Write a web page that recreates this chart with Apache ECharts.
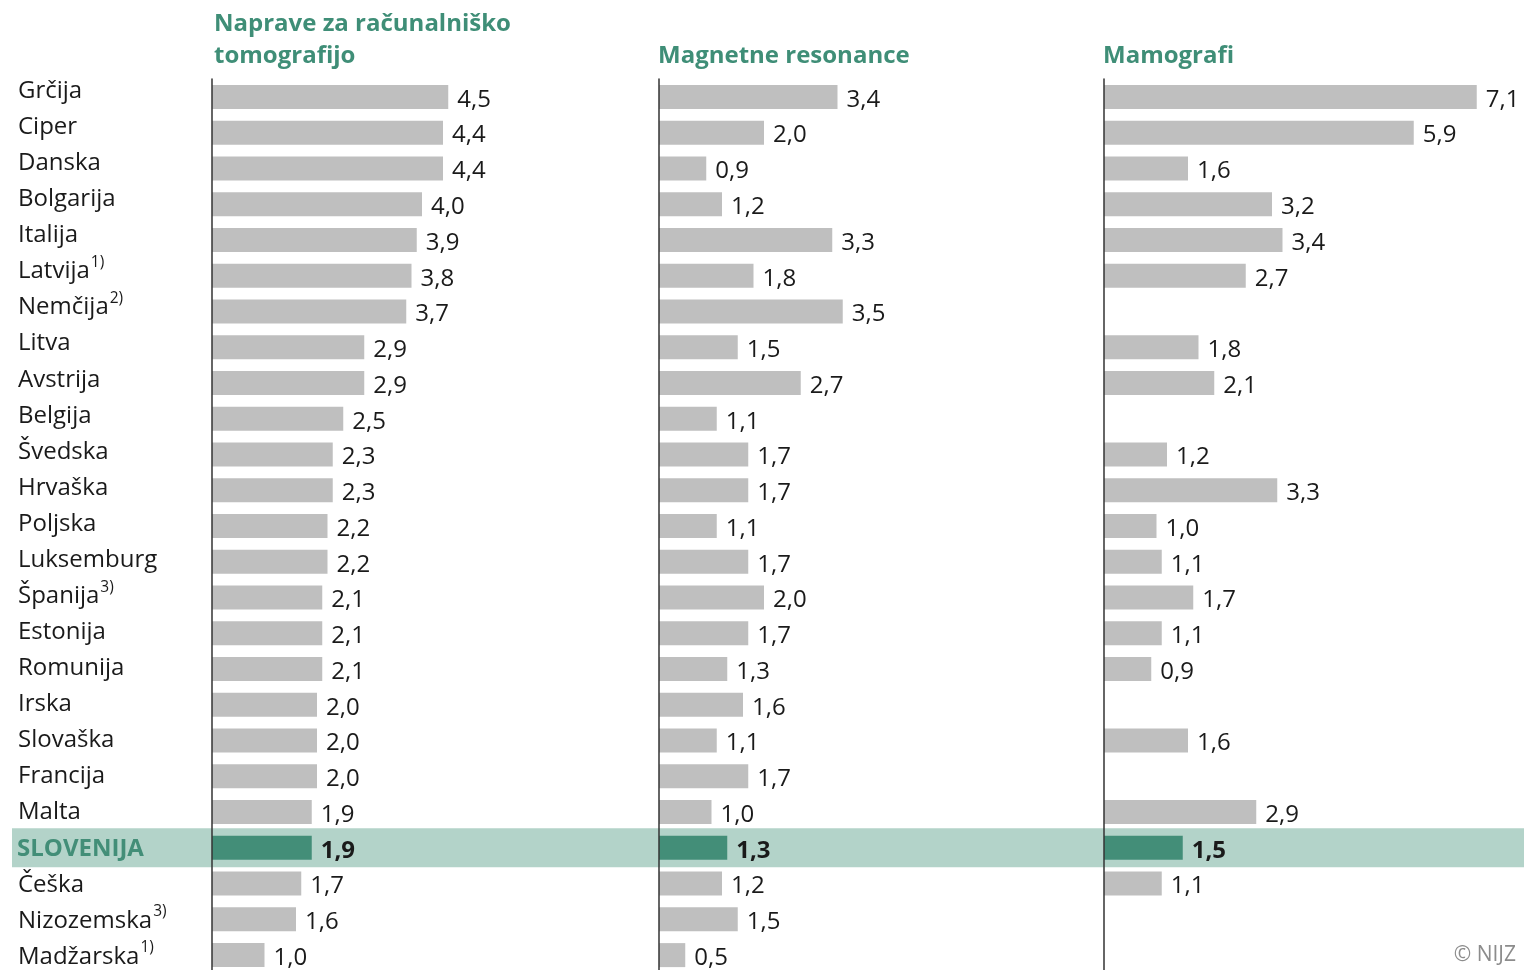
<!DOCTYPE html>
<html>
<head>
<meta charset="utf-8">
<script src="https://cdn.jsdelivr.net/npm/echarts@6/dist/echarts.min.js"></script>
<style>
  html, body { margin: 0; padding: 0; background: #fff; }
  #chart { width: 1524px; height: 970px; }
</style>
</head>
<body>
<div id="chart"></div>
<script>
const countries = ['Grčija', 'Ciper', 'Danska', 'Bolgarija', 'Italija', 'Latvija', 'Nemčija', 'Litva', 'Avstrija', 'Belgija',
  'Švedska', 'Hrvaška', 'Poljska', 'Luksemburg', 'Španija', 'Estonija', 'Romunija', 'Irska', 'Slovaška', 'Francija',
  'Malta', 'SLOVENIJA', 'Češka', 'Nizozemska', 'Madžarska']
const notes = { 'Latvija': '1)', 'Nemčija': '2)', 'Španija': '3)', 'Nizozemska': '3)', 'Madžarska': '1)' }
const titles = ['Naprave za računalniško\ntomografijo', 'Magnetne resonance', 'Mamografi']
const ctValues = [4.5, 4.4, 4.4, 4.0, 3.9, 3.8, 3.7, 2.9, 2.9, 2.5, 2.3, 2.3, 2.2, 2.2, 2.1, 2.1, 2.1, 2.0, 2.0, 2.0, 1.9, 1.9, 1.7, 1.6, 1.0]
const mriValues = [3.4, 2.0, 0.9, 1.2, 3.3, 1.8, 3.5, 1.5, 2.7, 1.1, 1.7, 1.7, 1.1, 1.7, 2.0, 1.7, 1.3, 1.6, 1.1, 1.7, 1.0, 1.3, 1.2, 1.5, 0.5]
const mammoValues = [7.1, 5.9, 1.6, 3.2, 3.4, 2.7, null, 1.8, 2.1, null, 1.2, 3.3, 1.0, 1.1, 1.7, 1.1, 0.9, null, 1.6, null, 2.9, 1.5, 1.1, null, null]

const HOME = 'SLOVENIJA'
const green = '#438e78'
const font = 'Open Sans'

const panelLeft = [212, 659, 1104]
const rowTop = 79
const rowHeight = 894

function barData (values) {
  return values.map((v, i) => {
    if (v === null) return '-'
    if (countries[i] === HOME) {
      return { value: v, itemStyle: { color: green }, label: { fontWeight: 'bold' } }
    }
    return v
  })
}

const grids = panelLeft.map(left => ({ left: left, top: rowTop, width: 420, height: rowHeight, outerBoundsMode: 'none' }))
grids.push({ left: 18, top: 73, width: 190, height: 902, outerBoundsMode: 'none' })   // country names
grids.push({ left: 12, top: rowTop, right: 0, height: rowHeight, outerBoundsMode: 'none' })   // highlight band

const xAxis = []
const yAxis = []
for (let i = 0; i < 3; i++) {
  xAxis.push({ gridIndex: i, type: 'value', min: 0, max: 8, show: false })
  yAxis.push({
    gridIndex: i, type: 'category', data: countries, inverse: true, z: 5,
    axisLine: { show: true, lineStyle: { color: '#333', width: 1.5 } },
    axisTick: { show: false }, axisLabel: { show: false }
  })
}
xAxis.push({ gridIndex: 3, type: 'value', show: false })
yAxis.push({
  gridIndex: 3, type: 'category', data: countries, inverse: true, z: 5,
  axisLine: { show: false }, axisTick: { show: false },
  axisLabel: {
    align: 'left', margin: 0, interval: 0,
    formatter: name => {
      if (name === HOME) return '{home|' + name + '}'
      if (notes[name]) return '{n|' + name + '}{sup|' + notes[name] + '}'
      return '{n|' + name + '}'
    },
    rich: {
      n: { fontFamily: font, fontSize: 24, color: '#1a1a1a', lineHeight: 34 },
      sup: { fontFamily: font, fontSize: 15.5, color: '#1a1a1a', lineHeight: 16, verticalAlign: 'top', padding: [0, 0, 0, 1] },
      home: { fontFamily: font, fontSize: 24, fontWeight: 'bold', color: green, lineHeight: 34, padding: [0, 0, 0, -1] }
    }
  }
})
xAxis.push({ gridIndex: 4, type: 'value', min: 0, max: 1, show: false })
yAxis.push({ gridIndex: 4, type: 'category', data: countries, inverse: true, show: false })

const valueSeries = [ctValues, mriValues, mammoValues].map((values, i) => ({
  type: 'bar',
  xAxisIndex: i,
  yAxisIndex: i,
  z: 3,
  barWidth: 24,
  silent: true,
  itemStyle: { color: '#bfbfbf' },
  label: {
    show: true,
    position: 'right',
    distance: 9,
    offset: [0, 3],
    fontFamily: font,
    fontSize: 24,
    color: '#1a1a1a',
    formatter: p => p.value.toFixed(1).replace('.', ',')
  },
  data: barData(values)
}))

const bandSeries = {
  type: 'bar',
  xAxisIndex: 4,
  yAxisIndex: 4,
  z: 1,
  barWidth: 39,
  silent: true,
  itemStyle: { color: '#b3d3c9' },
  data: countries.map(c => (c === HOME ? 1 : '-'))
}

const titleLeft = [214, 658, 1103]
const titleItems = titles.map((t, i) => ({
  text: t,
  left: titleLeft[i],
  top: i === 0 ? 8 : 40,
  padding: 0,
  textStyle: { fontFamily: font, fontSize: 24, fontWeight: 'bold', color: '#3f8e77', lineHeight: 32 }
}))
titleItems.push({
  text: '© NIJZ',
  right: 8,
  top: 943,
  padding: 0,
  textStyle: { fontFamily: font, fontSize: 21, fontWeight: 'normal', color: '#8c8c8c', lineHeight: 24 }
})

const chart = echarts.init(document.getElementById('chart'))
chart.setOption({
  animation: false,
  title: titleItems,
  grid: grids,
  xAxis: xAxis,
  yAxis: yAxis,
  series: [bandSeries].concat(valueSeries)
})
</script>
</body>
</html>
